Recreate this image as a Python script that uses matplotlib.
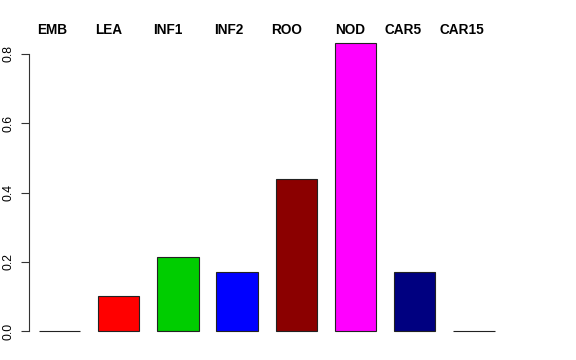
import matplotlib
matplotlib.use("Agg")
import matplotlib.pyplot as plt

categories = ["EMB", "LEA", "INF1", "INF2", "ROO", "NOD", "CAR5", "CAR15"]
values = [0.0, 0.101, 0.215, 0.171, 0.439, 0.832, 0.171, 0.0]
colors = ["#FFFFFF", "#FF0000", "#00CD00", "#0000FF", "#8B0000", "#FF00FF", "#000080", "#FFFFFF"]
yticks = [0.0, 0.2, 0.4, 0.6, 0.8]
ytick_labels = ["0.0", "0.2", "0.4", "0.6", "0.8"]

# horizontal centres (pixels) of the words of the title line
label_centers_px = [52, 109, 167.5, 229, 286.7, 350, 403, 461.7]

plt.rcParams['font.family'] = ['Liberation Sans', 'DejaVu Sans']

W, H = 576, 360
fig = plt.figure(figsize=(W / 100, H / 100), dpi=100)

left_px, right_px, bottom_px, top_px = 29, 546, 331, 40
ax = fig.add_axes([left_px / W, (H - bottom_px) / H,
                   (right_px - left_px) / W, (bottom_px - top_px) / H])

spacing = 59.2
first_center = 59.5
x = list(range(len(categories)))
bars = ax.bar(x, values, width=0.70, color=colors, edgecolor="#222222", linewidth=0.8)
for b in bars:
    b.set_clip_on(False)

ax.set_xlim((left_px - first_center) / spacing, (right_px - first_center) / spacing)
ax.set_ylim(0, (bottom_px - top_px) / 346.25)

for s in ["top", "right", "bottom"]:
    ax.spines[s].set_visible(False)
ax.spines["left"].set_bounds(0, 0.8)
ax.spines["left"].set_linewidth(0.8)
ax.spines["left"].set_color("#333333")

ax.set_yticks(yticks)
ax.set_yticklabels(ytick_labels, rotation=90, va="center", fontsize=8.8)
ax.tick_params(axis="y", length=5.5, width=0.8, color="#333333", pad=5)
ax.set_xticks([])

for name, cx in zip(categories, label_centers_px):
    fig.text(cx / W, (H - 33.5) / H, name, ha="center", va="baseline",
             fontsize=9.8, fontweight="bold")

fig.savefig("out.png", dpi=100)
